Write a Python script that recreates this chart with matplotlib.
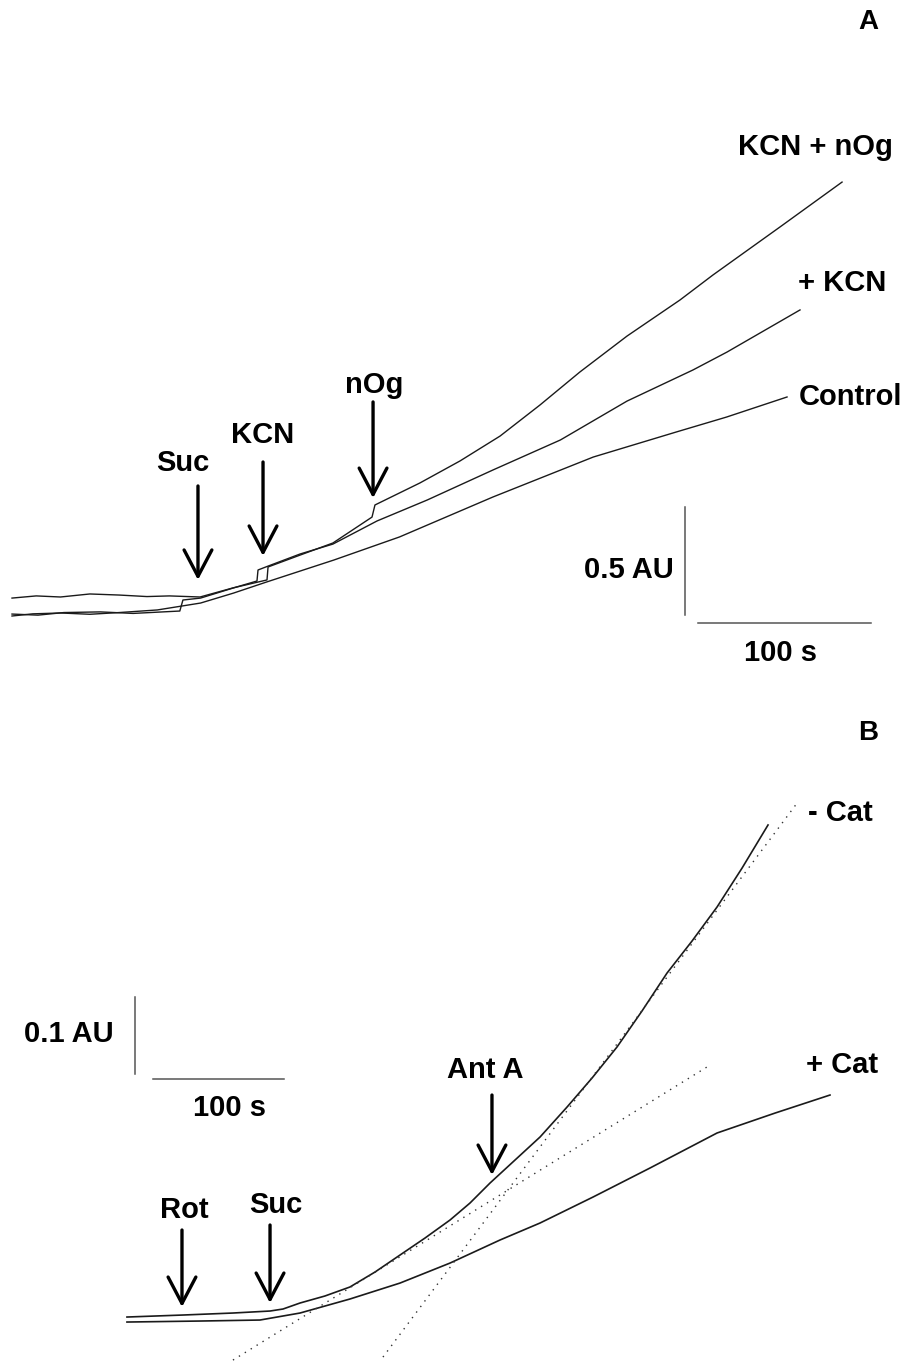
import matplotlib
matplotlib.use('Agg')
import matplotlib.pyplot as plt

plt.rcParams['font.family'] = ['Liberation Sans', 'DejaVu Sans']

# ---- panel A: absorbance traces (time in s, absorbance in AU) ----
ctrl_t = [0, 12, 28, 45, 62, 84, 109, 128, 147, 186, 224, 278, 336, 384, 413, 448]
ctrl_a = [0.000, 0.010, 0.014, 0.008, 0.016, 0.028, 0.060, 0.106, 0.157, 0.259, 0.366, 0.551, 0.736, 0.852, 0.921, 1.014]

kcn_t = [0, 15, 30, 51, 70, 97, 98.8, 109, 128, 141.6, 142.2, 148, 166.5, 185.5, 211, 240, 278, 317, 355.5, 393.6, 413.3, 455.5]
kcn_a = [0.009, 0.004, 0.016, 0.019, 0.012, 0.023, 0.074, 0.083, 0.130, 0.162, 0.213, 0.231, 0.287, 0.333, 0.440, 0.537, 0.676, 0.815, 0.995, 1.139, 1.222, 1.417]

nog_t = [0, 14, 28, 45, 62, 78, 91, 108.7, 127.7, 147.4, 148, 166.5, 185.5, 208.1, 209.8, 235.8, 259, 282.1, 305.2, 328.3, 355.5, 386.1, 405.2, 443.9, 479.8]
nog_a = [0.083, 0.093, 0.088, 0.102, 0.097, 0.090, 0.093, 0.088, 0.130, 0.167, 0.227, 0.282, 0.338, 0.458, 0.514, 0.616, 0.718, 0.833, 0.977, 1.130, 1.296, 1.463, 1.579, 1.801, 2.009]

# ---- panel B ----
mcat_t = [0, 42.7, 80.9, 109.2, 119.1, 132.1, 151.1, 170.2, 189.3, 208.4, 227.5, 246.6, 261.8, 277.1,
          296.2, 315.3, 335.9, 355.0, 374.0, 393.1, 412.2, 431.3, 450.4, 469.5, 489.3]
mcat_a = [0.0065, 0.0091, 0.0117, 0.0143, 0.0169, 0.0247, 0.0338, 0.0455, 0.0649, 0.0870, 0.1091, 0.1325, 0.1545, 0.1805,
          0.2104, 0.2403, 0.2792, 0.3169, 0.3571, 0.4039, 0.4532, 0.4948, 0.5390, 0.5896, 0.6455]

pcat_t = [0, 55.7, 101.5, 132.1, 170.2, 208.4, 246.6, 284.7, 315.3, 355.7, 399.2, 450.4, 494.7, 536.6]
pcat_a = [0.0, 0.0013, 0.0026, 0.0117, 0.0299, 0.0506, 0.0766, 0.1065, 0.1286, 0.1623, 0.2000, 0.2455, 0.2714, 0.2948]

fit1_t = [195.4, 511.5]
fit1_a = [-0.0455, 0.6740]
fit2_t = [80.9, 442.7]
fit2_a = [-0.0494, 0.3312]

W, H = 909, 1363
fig = plt.figure(figsize=(W / 100, H / 100), dpi=100)
axA = fig.add_axes([0, 1 - 690 / H, 1, 690 / H])
axB = fig.add_axes([0, 0, 1, 673 / H])
for ax in (axA, axB):
    ax.axis('off')
axA.set_xlim(-6.94, 518.5)
axA.set_ylim(-0.3426, 2.852)
axB.set_xlim(-96.9, 596.9)
axB.set_ylim(-0.0532, 0.8208)

lc = '#1a1a1a'
fs = 21
axA.plot(ctrl_t, ctrl_a, color=lc, lw=1.0)
axA.plot(kcn_t, kcn_a, color=lc, lw=1.0)
axA.plot(nog_t, nog_a, color=lc, lw=1.0)

axB.plot(mcat_t, mcat_a, color=lc, lw=1.2)
axB.plot(pcat_t, pcat_a, color=lc, lw=1.2)
axB.plot(fit1_t, fit1_a, color='#333333', lw=1.0, ls=(0, (1, 4)))
axB.plot(fit2_t, fit2_a, color='#333333', lw=1.0, ls=(0, (1, 4)))


def arrow(ax, x, top, tip, label, lx, ly):
    ax.annotate('', xy=(x, tip), xytext=(x, top),
                arrowprops=dict(arrowstyle='->,head_length=1.9,head_width=1.0',
                                lw=2.4, color='black', shrinkA=0, shrinkB=0,
                                mutation_scale=10))
    ax.text(lx, ly, label, fontsize=fs, fontweight='bold', ha='center', va='center')


arrow(axA, 107.5, 0.602, 0.167, 'Suc', 98.6, 0.708)
arrow(axA, 145.1, 0.713, 0.278, 'KCN', 145.1, 0.838)
arrow(axA, 208.7, 0.991, 0.546, 'nOg', 209.2, 1.069)

axA.text(464.7, 2.171, 'KCN + nOg', fontsize=fs, fontweight='bold', ha='center', va='center')
axA.text(480.1, 1.542, '+ KCN', fontsize=fs, fontweight='bold', ha='center', va='center')
axA.text(484.7, 1.014, 'Control', fontsize=fs, fontweight='bold', ha='center', va='center')
axA.text(494.8, 2.750, 'A', fontsize=20, fontweight='bold', ha='center', va='center')

# scale bars A
axA.plot([389.0, 389.0], [0.005, 0.505], color='#555555', lw=1.1)
axA.plot([396.5, 496.5], [-0.032, -0.032], color='#555555', lw=1.1)
axA.text(356.4, 0.213, '0.5 AU', fontsize=fs, fontweight='bold', ha='center', va='center')
axA.text(444.0, -0.171, '100 s', fontsize=fs, fontweight='bold', ha='center', va='center')

arrow(axB, 42.0, 0.1195, 0.0195, 'Rot', 43.5, 0.1455)
arrow(axB, 109.2, 0.126, 0.0247, 'Suc', 113.7, 0.152)
arrow(axB, 278.6, 0.2948, 0.1909, 'Ant A', 273.3, 0.327)

axB.text(544.3, 0.661, '- Cat', fontsize=fs, fontweight='bold', ha='center', va='center')
axB.text(545.8, 0.3338, '+ Cat', fontsize=fs, fontweight='bold', ha='center', va='center')
axB.text(565.6, 0.765, 'B', fontsize=20, fontweight='bold', ha='center', va='center')

# scale bars B
axB.plot([6.1, 6.1], [0.322, 0.422], color='#555555', lw=1.1)
axB.plot([19.8, 119.8], [0.3156, 0.3156], color='#555555', lw=1.1)
axB.text(-44.3, 0.374, '0.1 AU', fontsize=fs, fontweight='bold', ha='center', va='center')
axB.text(78.6, 0.2779, '100 s', fontsize=fs, fontweight='bold', ha='center', va='center')

fig.savefig('out.png', dpi=100)
